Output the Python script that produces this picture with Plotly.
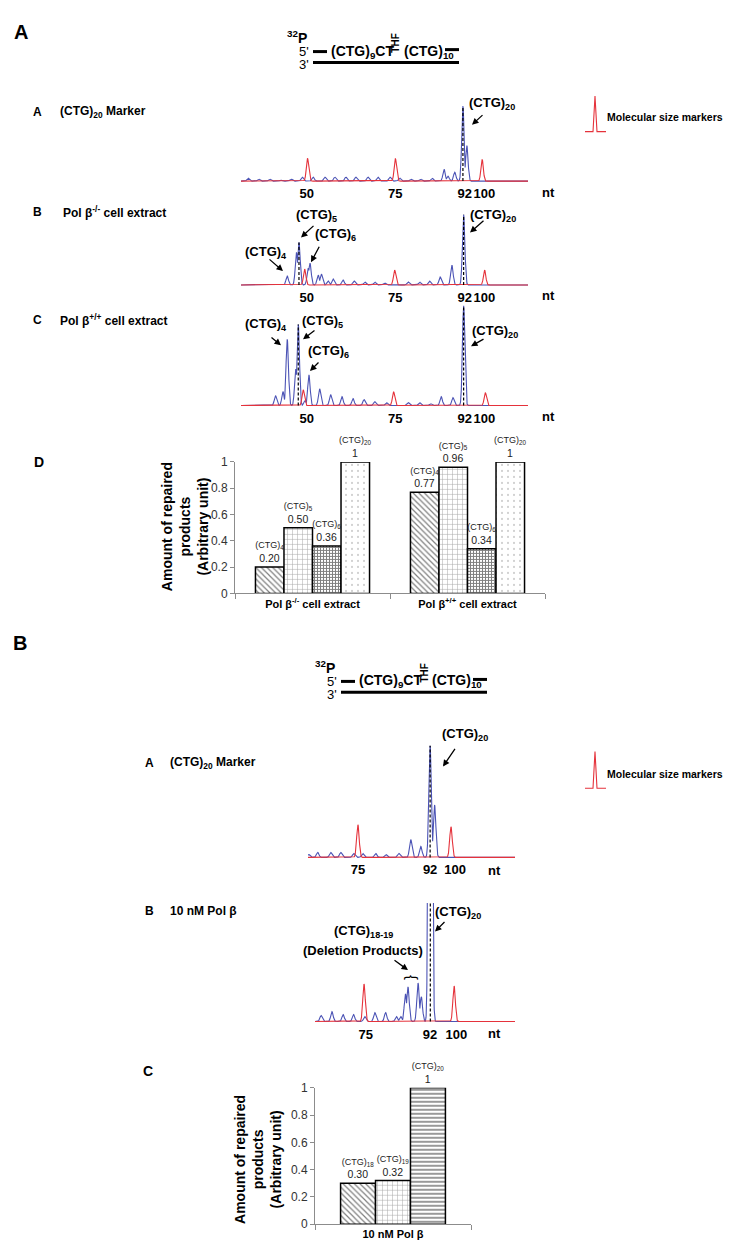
import numpy as np
import plotly.graph_objects as go

W, H = 742, 1243
FONT = "Liberation Sans, Arial, sans-serif"
BLUE = "#4b53b5"
RED = "#e5323b"

# ---------------- DATA ----------------
# Electropherograms: peak position (nt, size-marker calibrated) and peak height (fluorescence, a.u.)
# Figure A, trace A: (CTG)20 marker
A1_BLUE_POS = [33.7, 36.7, 39.8, 42.9, 45.8, 48.9, 52.0, 55.3, 58.1, 61.2, 64.0, 67.4, 70.2, 73.6,
               76.3, 79.5, 82.2, 85.4, 88.8, 89.9, 91.8, 94.1, 95.2]
A1_BLUE_H = [3, 2, 2, 1, 2, 4, 4, 4, 4, 4, 4, 4, 4, 4, 3, 2, 2, 3, 12, 5, 9, 76, 36]
A1_RED_POS = [50.4, 75.1, 99.5]
A1_RED_H = [23, 23, 22]
A1_LABELED = [21]

# Figure A, trace B: Pol beta -/- extract
A2_BLUE_POS = [44.7, 47.3, 48.0, 50.6, 51.1, 53.4, 54.3, 56.2, 57.6, 60.4, 63.5, 66.5, 69.3, 72.1,
               78.7, 81.9, 84.7, 87.7, 91.0, 94.3]
A2_BLUE_H = [9, 33, 43, 17, 22, 10, 11, 4, 6, 5, 4, 3, 3, 2, 3, 3, 4, 8, 20, 71]
A2_RED_POS = [49.6, 74.9, 100.2]
A2_RED_H = [16, 15, 15]
A2_LABELED = [2, 19]

# Figure A, trace C: Pol beta +/+ extract
A3_BLUE_POS = [41.4, 43.5, 44.7, 47.1, 47.8, 49.7, 50.8, 53.8, 56.9, 60.1, 63.2, 66.3, 69.3, 72.6,
               78.7, 81.9, 85.0, 88.0, 91.3, 94.3]
A3_BLUE_H = [10, 14, 67, 37, 82, 5, 31, 17, 11, 9, 7, 6, 4, 3, 3, 3, 2, 9, 8, 101]
A3_RED_POS = [49.2, 74.6, 100.4]
A3_RED_H = [16, 14, 13]
A3_LABELED = [4, 19]

A_TICK_POS = [50.2, 75.1, 94.6, 100.1]
A_TICK_TEXT = ["50", "75", "92", "100"]

# Figure B, trace A: (CTG)20 marker
B1_BLUE_POS = [61.8, 64.2, 67.7, 70.4, 73.9, 76.3, 79.8, 82.5, 86.0, 89.2, 91.9, 94.4, 95.6]
B1_BLUE_H = [3, 5, 5, 5, 4, 4, 4, 3, 4, 18, 11, 113, 53]
B1_RED_POS = [75.0, 100.0]
B1_RED_H = [33, 31]
B1_LABELED = [11]
B1_TICK_POS = [75.0, 94.4, 101.1]

# Figure B, trace B: 10 nM Pol beta (main product peak is off-scale)
B2_BLUE_POS = [63.1, 66.1, 69.2, 72.1, 75.2, 78.0, 81.0, 84.0, 85.2, 86.5, 87.2, 90.0, 90.9, 93.4]
B2_BLUE_H = [6, 10, 7, 7, 5, 9, 9, 5, 5, 28, 35, 39, 25, 2000]
B2_RED_POS = [75.0, 100.0]
B2_RED_H = [38, 36]
B2_LABELED = [13]
B2_TICK_POS = [75.5, 93.3, 100.6]
B_TICK_TEXT = ["75", "92", "100"]

# Bar chart D (Figure A)
D_GROUPS = ["Pol β-/- cell extract", "Pol β+/+ cell extract"]
D_GROUP_LABELS = ["Pol β<sup>-/-</sup> cell extract", "Pol β<sup>+/+</sup> cell extract"]
D_CTG4 = [0.20, 0.77]
D_CTG5 = [0.50, 0.96]
D_CTG6 = [0.36, 0.34]
D_CTG20 = [1.0, 1.0]

# Bar chart C (Figure B)
C_GROUPS = ["10 nM Pol β"]
C_CTG18 = [0.30]
C_CTG19 = [0.32]
C_CTG20 = [1.0]

Y_TICKS = [0, 0.2, 0.4, 0.6, 0.8, 1]
Y_TICK_TEXT = ["0", "0.2", "0.4", "0.6", "0.8", "1"]

# ---------------- helpers ----------------
def px_x(x):
    return x / W


def px_y(y):
    return 1 - y / H


def xd(a, b):
    return [a / W, b / W]


def yd(bottom, top):
    return [1 - bottom / H, 1 - top / H]


def curve(pos, hts, xr, sigma=0.34, step=0.03):
    x = np.arange(xr[0], xr[1] + step, step)
    y = np.zeros_like(x)
    for p, h in zip(pos, hts):
        y = np.maximum(y, h * np.exp(-0.5 * ((x - p) / sigma) ** 2))
    return x, y


fig = go.Figure()
layout = dict(width=W, height=H, margin=dict(l=0, r=0, t=0, b=0), paper_bgcolor="white",
              plot_bgcolor="rgba(0,0,0,0)", showlegend=False,
              font=dict(family=FONT, color="black"))


def axkey(n, kind):
    return f"{kind}axis" if n == 1 else f"{kind}axis{n}"


def axref(n, kind):
    return kind if n == 1 else f"{kind}{n}"


def ce_panel(n, xdom, xr, ydom, yr, blue_pos, blue_h, red_pos, red_h, labeled, tickpos, ticktext):
    layout[axkey(n, "x")] = dict(domain=xdom, range=xr, anchor=axref(n, "y"), showgrid=False,
                                 zeroline=False, showline=False, ticks="", tickvals=tickpos,
                                 ticktext=[f"<b>{t}</b>" for t in ticktext], tickangle=0,
                                 tickfont=dict(size=13, color="black", family=FONT))
    layout[axkey(n, "y")] = dict(domain=ydom, range=yr, anchor=axref(n, "x"), visible=False)
    xb, yb = curve(blue_pos, blue_h, xr)
    fig.add_trace(go.Scatter(x=xb, y=yb, mode="lines", line=dict(color=BLUE, width=1.1),
                             xaxis=axref(n, "x"), yaxis=axref(n, "y"), hoverinfo="skip"))
    xr_, yr_ = curve(red_pos, red_h, xr)
    fig.add_trace(go.Scatter(x=xr_, y=yr_, mode="lines", line=dict(color=RED, width=1.1),
                             xaxis=axref(n, "x"), yaxis=axref(n, "y"), hoverinfo="skip"))
    for i in labeled:
        fig.add_trace(go.Scatter(x=[blue_pos[i], blue_pos[i]], y=[0, blue_h[i]], mode="lines",
                                 line=dict(color="black", width=1.2, dash="3px,2px"),
                                 xaxis=axref(n, "x"), yaxis=axref(n, "y"), hoverinfo="skip"))


A_XR = [31.7, 112.4]
ce_panel(1, xd(233, 520), A_XR, yd(171, 88), [-3, 80], A1_BLUE_POS, A1_BLUE_H, A1_RED_POS, A1_RED_H,
         A1_LABELED, A_TICK_POS, A_TICK_TEXT)
ce_panel(2, xd(233, 520), A_XR, yd(276, 193), [-3, 80], A2_BLUE_POS, A2_BLUE_H, A2_RED_POS, A2_RED_H,
         A2_LABELED, A_TICK_POS, A_TICK_TEXT)
ce_panel(3, xd(233, 520), A_XR, yd(398, 290), [-3, 105], A3_BLUE_POS, A3_BLUE_H, A3_RED_POS, A3_RED_H,
         A3_LABELED, A_TICK_POS, A_TICK_TEXT)
ce_panel(4, xd(300, 507), [61.6, 117.2], yd(855, 737), [-3, 115], B1_BLUE_POS, B1_BLUE_H, B1_RED_POS,
         B1_RED_H, B1_LABELED, B1_TICK_POS, B_TICK_TEXT)
ce_panel(5, xd(307, 507), [61.4, 116.9], yd(1021, 898), [-3, 120], B2_BLUE_POS, B2_BLUE_H, B2_RED_POS,
         B2_RED_H, B2_LABELED, B2_TICK_POS, B_TICK_TEXT)


# ---------------- bar charts ----------------
def fmt(v):
    return "1" if v == 1 else f"{v:.2f}"


def bar_axes(n, xdom, ydom, cats, catlabels):
    layout[axkey(n, "x")] = dict(domain=xdom, anchor=axref(n, "y"), type="category",
                                 categoryorder="array", categoryarray=cats,
                                 showline=True, linecolor="#8c8c8c", linewidth=1, ticks="outside",
                                 tickson="boundaries", ticklen=5, tickcolor="#8c8c8c",
                                 tickvals=cats, ticktext=[f"<b>{c}</b>" for c in catlabels],
                                 tickfont=dict(size=11, color="black", family=FONT), showgrid=False)
    layout[axkey(n, "y")] = dict(domain=ydom, range=[0, 1], anchor=axref(n, "x"), showline=True,
                                 linecolor="#8c8c8c", linewidth=1, ticks="outside", ticklen=4,
                                 tickcolor="#8c8c8c", tickvals=Y_TICKS, ticktext=Y_TICK_TEXT,
                                 tickfont=dict(size=12, color="#333333", family=FONT),
                                 showgrid=False, zeroline=False)


def add_bars(n, cats, values, sub, pattern, offset, width):
    texts = [f"<span style='font-size:9px'>(CTG)<sub>{sub}</sub></span><br>{fmt(v)}" for v in values]
    fig.add_trace(go.Bar(x=cats, y=values, text=texts, textposition="outside", cliponaxis=False,
                         constraintext="none", offset=offset, width=width,
                         textfont=dict(size=10.5, color="#222222", family=FONT),
                         marker=dict(color="white", line=dict(color="black", width=1.5),
                                     pattern=pattern),
                         xaxis=axref(n, "x"), yaxis=axref(n, "y"), hoverinfo="skip"))


bar_axes(6, xd(227, 537), yd(585, 452), D_GROUPS, D_GROUP_LABELS)
bw = 0.184
d_patterns = [
    dict(shape="\\", fgcolor="black", bgcolor="white", size=4, solidity=0.3),
    dict(shape="+", fgcolor="#555555", bgcolor="white", size=5, solidity=0.2),
    dict(shape="+", fgcolor="black", bgcolor="white", size=3, solidity=0.55),
    dict(shape=".", fgcolor="#333333", bgcolor="white", size=6, solidity=0.06),
]
for i, (vals, sub) in enumerate(zip([D_CTG4, D_CTG5, D_CTG6, D_CTG20], ["4", "5", "6", "20"])):
    add_bars(6, D_GROUPS, vals, sub, d_patterns[i], -2 * bw + i * bw, bw)

bar_axes(7, xd(307, 463), yd(1223, 1085), C_GROUPS, C_GROUPS)
cw = 0.224
c_patterns = [
    dict(shape="\\", fgcolor="black", bgcolor="white", size=4, solidity=0.3),
    dict(shape="+", fgcolor="#555555", bgcolor="white", size=5, solidity=0.2),
    dict(shape="-", fgcolor="black", bgcolor="white", size=4, solidity=0.4),
]
for i, (vals, sub) in enumerate(zip([C_CTG18, C_CTG19, C_CTG20], ["18", "19", "20"])):
    add_bars(7, C_GROUPS, vals, sub, c_patterns[i], -1.5 * cw + i * cw, cw)

# ---------------- annotations ----------------
ann = []
shapes = []


def txt(s, x, y, size=12, bold=True, xanchor="center", angle=0, color="black"):
    ann.append(dict(text=f"<b>{s}</b>" if bold else s, x=px_x(x), y=px_y(y), xref="paper", yref="paper",
                    showarrow=False, xanchor=xanchor, yanchor="middle", textangle=angle,
                    font=dict(size=size, color=color, family=FONT)))


def arrow(x0, y0, x1, y1):
    ann.append(dict(text="", x=px_x(x1), y=px_y(y1), xref="paper", yref="paper", showarrow=True,
                    ax=x0 - x1, ay=y0 - y1, arrowhead=2, arrowsize=1, arrowwidth=1.3,
                    arrowcolor="black", standoff=0))


def hline(x0, x1, y, w=3, color="black"):
    shapes.append(dict(type="line", xref="paper", yref="paper", x0=px_x(x0), x1=px_x(x1),
                       y0=px_y(y), y1=px_y(y), line=dict(color=color, width=w)))


def schematic(x0, y):
    # x0: start of strands, y: top strand level
    txt("<sup>32</sup>P", x0 - 16, y - 15, size=14)
    txt("5'", x0 - 2, y, size=13, bold=False, xanchor="right")
    txt("3'", x0 - 2, y + 13, size=13, bold=False, xanchor="right")
    hline(x0, x0 + 14, y)
    txt("(CTG)<sub>9</sub>CT", x0 + 16, y, size=14, xanchor="left")
    txt("THF", x0 + 83, y - 8, size=10, angle=-90)
    txt("(CTG)<sub>10</sub>", x0 + 89, y, size=14, xanchor="left")
    hline(x0 + 132, x0 + 146, y - 2)
    hline(x0, x0 + 146, y + 11)


def legend_icon(xc, ytop, ybase, label_y):
    pts = [(xc - 10, ybase), (xc - 2, ybase), (xc, ytop), (xc + 2, ybase), (xc + 11, ybase)]
    path = "M " + " L ".join(f"{px_x(a)} {px_y(b)}" for a, b in pts)
    shapes.append(dict(type="path", xref="paper", yref="paper", path=path,
                       line=dict(color=RED, width=1.1)))
    txt("Molecular size markers", 597, label_y, size=10.5, xanchor="left")


# ---- Figure A ----
txt("A", 13, 17, size=20)
schematic(305, 37)
txt("A", 29, 98, size=12)
txt("(CTG)<sub>20</sub> Marker", 50, 98, size=12, xanchor="left")
txt("B", 29, 199, size=12)
txt("Pol β<sup>-/-</sup> cell extract", 53, 199, size=12, xanchor="left")
txt("C", 29, 308, size=12)
txt("Pol β<sup>+/+</sup> cell extract", 50, 308, size=12, xanchor="left")
for yy in [180, 284, 406]:
    txt("nt", 540, yy, size=13)
legend_icon(587, 82, 118, 103)

# trace A labels
txt("(CTG)<sub>20</sub>", 484, 90, size=13)
arrow(476, 100, 464, 111)
# trace B labels
txt("(CTG)<sub>4</sub>", 258, 240, size=13)
arrow(260, 246, 275, 259)
txt("(CTG)<sub>5</sub>", 308, 203, size=13)
arrow(307, 212, 293, 225)
txt("(CTG)<sub>6</sub>", 327, 222, size=13)
arrow(312, 233, 303, 250)
txt("(CTG)<sub>20</sub>", 485, 203, size=13)
arrow(477, 207, 462, 220)
# trace C labels
txt("(CTG)<sub>4</sub>", 258, 313, size=13)
arrow(262, 325, 273, 334)
txt("(CTG)<sub>5</sub>", 314, 310, size=13)
arrow(308, 318, 295, 328)
txt("(CTG)<sub>6</sub>", 320, 340, size=13)
arrow(312, 350, 302, 360)
txt("(CTG)<sub>20</sub>", 487, 320, size=13)
arrow(477, 327, 463, 335)

# bar chart D
txt("D", 31, 452, size=14)
txt("Amount of repaired<br>products<br>(Arbitrary unit)", 177, 518, size=14, angle=-90)

# ---- Figure B ----
txt("B", 12, 635, size=20)
schematic(333, 674)
txt("A", 141, 757, size=12)
txt("(CTG)<sub>20</sub> Marker", 160, 757, size=12, xanchor="left")
txt("B", 141, 906, size=12)
txt("10 nM Pol β", 160, 906, size=12, xanchor="left")
txt("nt", 486, 865, size=13)
txt("nt", 486, 1030, size=13)
legend_icon(587, 745, 782, 768)

txt("(CTG)<sub>20</sub>", 457, 728, size=13)
arrow(448, 741, 435, 760)
txt("(CTG)<sub>20</sub>", 450, 908, size=13)
arrow(438, 916, 427, 927)
txt("(CTG)<sub>18-19</sub>", 355, 927, size=13)
txt("(Deletion Products)", 355, 946, size=13)
arrow(385, 955, 400, 966)
txt("{", 405, 973, size=15, bold=False, angle=90)

txt("C", 140, 1068, size=14)
txt("Amount of repaired<br>products<br>(Arbitrary unit)", 250, 1158, size=14, angle=-90)

layout["annotations"] = ann
layout["shapes"] = shapes
layout["barmode"] = "overlay"
fig.update_layout(**layout)
fig.write_html("out.html")
